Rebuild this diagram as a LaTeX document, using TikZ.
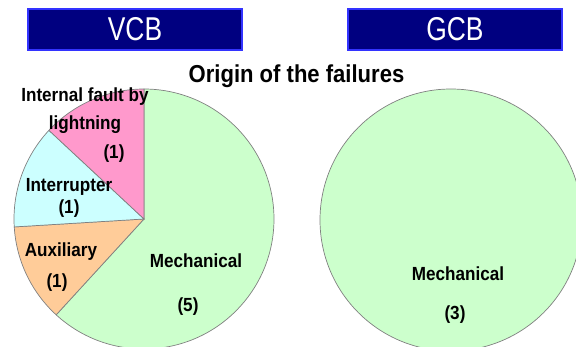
\documentclass[tikz,border=0pt]{standalone}
\usepackage{fontspec}
\setmainfont{Liberation Sans}
\newfontfamily\narrowfont{Liberation Sans}[FakeStretch=0.8]
\newfontfamily\labelfont{Liberation Sans}[FakeStretch=0.9]
\definecolor{navybox}{HTML}{000080}
\definecolor{boxrim}{HTML}{3333FF}
\definecolor{mechgreen}{HTML}{CCFFCC}
\definecolor{lightpink}{HTML}{FF99CC}
\definecolor{lightcyan}{HTML}{CCFFFF}
\definecolor{lightorange}{HTML}{FFCC99}
\definecolor{pierim}{HTML}{808080}

\begin{document}
\begin{tikzpicture}[x=1pt, y=1pt,
  head/.style={draw=boxrim, line width=1.5pt, fill=navybox, text=white,
               minimum width=214pt, minimum height=41pt, inner sep=0pt,
               font=\narrowfont\fontsize{33}{33}\selectfont},
  slice/.style={draw=pierim, line width=0.7pt, fill=#1},
  lbl/.style={font=\labelfont\bfseries\fontsize{19}{28}\selectfont, align=center, inner sep=0pt},
  ttl/.style={font=\labelfont\bfseries\fontsize{24.5}{24.5}\selectfont, inner sep=0pt}
]
\useasboundingbox (0,0) rectangle (576,346);
\clip (0,0) rectangle (576,346);

% ---- headers ----
\node[head] (vcb) at (135,316.5) {VCB};
\node[head] (gcb) at (455,316.5) {GCB};
\node[ttl]  (title) at (296.5,270) {Origin of the failures};

% ---- VCB pie (8 failures) ----
\coordinate (vc) at (144,127);
\filldraw[slice=mechgreen]   (vc) -- ++(-132.5:130) arc[start angle=-132.5, end angle=90, radius=130] -- cycle;
\filldraw[slice=lightorange] (vc) -- ++(183.5:130) arc[start angle=183.5, end angle=227.5, radius=130] -- cycle;
\filldraw[slice=lightcyan]   (vc) -- ++(137:130) arc[start angle=137, end angle=183.5, radius=130] -- cycle;
\filldraw[slice=lightpink]   (vc) -- ++(90:130) arc[start angle=90, end angle=137, radius=130] -- cycle;

% ---- GCB pie (3 failures) ----
\coordinate (gc) at (451,126);
\filldraw[slice=mechgreen] (gc) circle[radius=131];

% ---- VCB labels ----
\node[lbl] (fault)   at (85,235)  {Internal fault by\\lightning};
\node[lbl] (faultn)  at (114,192) {(1)};
\node[lbl] (intr)    at (69,159)  {Interrupter};
\node[lbl] (intrn)   at (69,137)  {(1)};
\node[lbl] (aux)     at (61,94)   {Auxiliary};
\node[lbl] (auxn)    at (57,63)   {(1)};
\node[lbl] (mech)    at (196,85)  {Mechanical};
\node[lbl] (mechn)   at (188,39)  {(5)};

% ---- GCB labels ----
\node[lbl] (gmech)   at (458,72)  {Mechanical};
\node[lbl] (gmechn)  at (455,31)  {(3)};

\end{tikzpicture}
\end{document}
